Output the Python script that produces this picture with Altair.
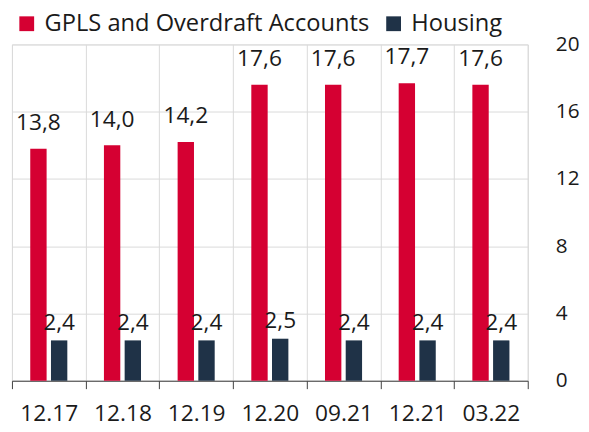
import altair as alt
import pandas as pd

categories = ["12.17", "12.18", "12.19", "12.20", "09.21", "12.21", "03.22"]
series_names = ["GPLS and Overdraft Accounts", "Housing"]
gpls = [13.8, 14.0, 14.2, 17.6, 17.6, 17.7, 17.6]
housing = [2.4, 2.4, 2.4, 2.5, 2.4, 2.4, 2.4]
y_ticks = [0, 4, 8, 12, 16, 20]
colors = ["#D50032", "#1F3247"]

rows = []
for c, g, h in zip(categories, gpls, housing):
    rows.append({"cat": c, "series": series_names[0], "value": g})
    rows.append({"cat": c, "series": series_names[1], "value": h})
df = pd.DataFrame(rows)

FONT = "Open Sans"
TXT = "#1a1a1a"

x_enc = alt.X("cat:N", sort=categories, title=None,
              scale=alt.Scale(paddingInner=0, paddingOuter=0),
              axis=alt.Axis(tickBand="extent", grid=True, gridColor="#d9d9d9",
                            domainColor="#404040", tickColor="#404040",
                            tickSize=8, labelFontSize=23, labelPadding=14,
                            labelAngle=0, labelColor=TXT, labelFont=FONT))
xoff = alt.XOffset("series:N", sort=series_names,
                   scale=alt.Scale(paddingInner=0.21, paddingOuter=0.884))
y_enc = alt.Y("value:Q", title=None,
              scale=alt.Scale(domain=[0, 20], nice=False),
              axis=alt.Axis(orient="right", values=y_ticks, grid=True,
                            gridColor="#d9d9d9", domain=False, ticks=False,
                            labelFontSize=21, labelPadding=28, labelColor=TXT,
                            labelFont=FONT))

base = alt.Chart(df)

bars = base.mark_bar().encode(
    x=x_enc, xOffset=xoff, y=y_enc,
    color=alt.Color("series:N", sort=series_names,
                    scale=alt.Scale(domain=series_names, range=colors),
                    legend=alt.Legend(title=None, orient="none", direction="horizontal",
                                      legendX=3, legendY=-33, padding=0,
                                      symbolType="square", symbolSize=225,
                                      symbolStrokeWidth=0, labelFontSize=24,
                                      labelFont=FONT, labelColor=TXT,
                                      labelOffset=6, columnPadding=12,
                                      labelLimit=500)),
)

lbl = base.transform_calculate(
    label="replace(format(datum.value, '.1f'), '.', ',')"
)
text_red = lbl.transform_filter(alt.datum.series == series_names[0]).mark_text(
    fontSize=23, font=FONT, color=TXT, baseline="alphabetic", dy=-19
).encode(x=alt.X("cat:N", sort=categories), xOffset=xoff,
         y="value:Q", text="label:N")
text_blue = lbl.transform_filter(alt.datum.series == series_names[1]).mark_text(
    fontSize=23, font=FONT, color=TXT, baseline="alphabetic", dy=-11
).encode(x=alt.X("cat:N", sort=categories), xOffset=xoff,
         y="value:Q", text="label:N")

chart = alt.layer(bars, text_red, text_blue).properties(
    width=523, height=341,
    autosize=alt.AutoSizeParams(type="none"),
    padding={"left": 4, "top": 34, "right": 54, "bottom": 49},
).configure_view(stroke="#d9d9d9").configure(font=FONT)

chart.save("out.html", embed_options={"renderer": "svg", "actions": False})
